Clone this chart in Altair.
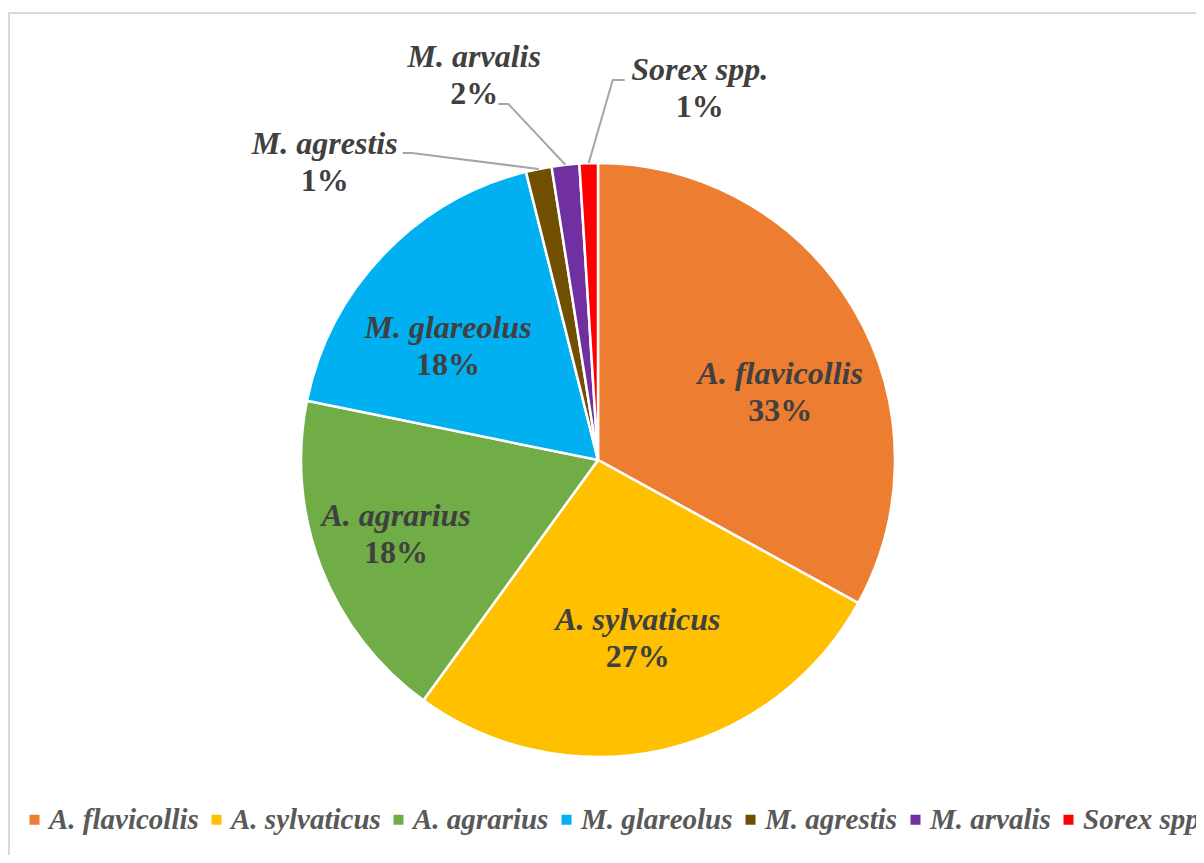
import math
import altair as alt
import pandas as pd

# ---- data ----
species = ["A. flavicollis", "A. sylvaticus", "A. agrarius", "M. glareolus",
           "M. agrestis", "M. arvalis", "Sorex spp."]
shares = [33.0, 27.0, 18.2, 17.9, 1.4, 1.5, 1.0]
colors = ["#ED7D31", "#FFC000", "#70AD47", "#00B0F0", "#705000", "#7030A0", "#FF0000"]

# ---- layout (label placement, in degrees clockwise from 12 o'clock / pixels) ----
CX, CY, R = 590, 452, 297
label_angle = [72.6, 168.1, 247.2, 304.5, 316.5, 341.7, 15.7]
label_radius = [191, 193, 219, 182, 397, 394, 376]
# leader elbows for outside labels: (start dx, start dy, elbow dx, elbow dy) relative to label anchor
leaders = {
    "M. agrestis": (78, -19, 87, -19),
    "M. arvalis": (24, 18, 34, 18),
    "Sorex spp.": (-75, -18, -87, -18),
}

total = sum(shares)
rows, lead_rows = [], []
cum = 0.0
for i, (sp, v) in enumerate(zip(species, shares)):
    mid = (cum + v / 2) / total * 2 * math.pi
    cum += v
    a = math.radians(label_angle[i])
    ax = CX + label_radius[i] * math.sin(a)
    ay = CY - label_radius[i] * math.cos(a)
    rows.append({
        "species": sp, "share": v, "idx": i,
        "pct": f"{math.floor(v + 0.5)}%",
        "nx": ax, "ny": ay - 18.5, "py": ay + 18.5,
    })
    if sp in leaders:
        sdx, sdy, edx, edy = leaders[sp]
        pts = [(ax + sdx, ay + sdy), (ax + edx, ay + edy),
               (CX + R * math.sin(mid), CY - R * math.cos(mid))]
        for k, (lx, ly) in enumerate(pts):
            lead_rows.append({"species": sp, "k": k, "lx": lx, "ly": ly})

df = pd.DataFrame(rows)
lead_df = pd.DataFrame(lead_rows)

FONT = "Liberation Serif"

pie = alt.Chart(df).mark_arc(radius=R, stroke="white", strokeWidth=2.5).encode(
    theta=alt.Theta("share:Q", stack=True),
    order=alt.Order("idx:Q"),
    x=alt.value(CX),
    y=alt.value(CY),
    color=alt.Color(
        "species:N",
        sort=species,
        scale=alt.Scale(domain=species, range=colors),
        legend=alt.Legend(
            title=None, orient="none", legendX=12, legendY=797,
            direction="horizontal", symbolType="square", symbolSize=100,
            symbolStrokeWidth=0, labelFont=FONT, labelFontSize=29,
            labelFontStyle="italic", labelFontWeight="bold",
            labelColor="#595959", labelOffset=0, columnPadding=3, labelLimit=0,
        ),
    ),
)

names = alt.Chart(df).mark_text(
    font=FONT, fontSize=32, fontWeight="bold", fontStyle="italic",
    color="#404040", align="center", baseline="alphabetic",
).encode(
    x=alt.X("nx:Q", scale=None, axis=None),
    y=alt.Y("ny:Q", scale=None, axis=None),
    text="species:N",
)

pcts = alt.Chart(df).mark_text(
    font=FONT, fontSize=32, fontWeight="bold",
    color="#404040", align="center", baseline="alphabetic",
).encode(
    x=alt.X("nx:Q", scale=None, axis=None),
    y=alt.Y("py:Q", scale=None, axis=None),
    text="pct:N",
)

lines = alt.Chart(lead_df).mark_line(color="#A6A6A6", strokeWidth=2).encode(
    x=alt.X("lx:Q", scale=None, axis=None),
    y=alt.Y("ly:Q", scale=None, axis=None),
    detail="species:N",
    order="k:Q",
)

edge = pd.DataFrame({"a": [0]})
left_border = alt.Chart(edge).mark_rule(color="#D9D9D9", strokeWidth=2).encode(
    x=alt.value(1), y=alt.value(4), y2=alt.value(847))
top_border = alt.Chart(edge).mark_rule(color="#D9D9D9", strokeWidth=2).encode(
    x=alt.value(0), x2=alt.value(1188), y=alt.value(5))

chart = alt.layer(left_border, top_border, pie, lines, names, pcts).properties(
    width=1188, height=847, autosize="none", padding=0, background="white"
).configure_view(stroke=None)

chart.save("out.html", embed_options={"renderer": "svg", "actions": False})
